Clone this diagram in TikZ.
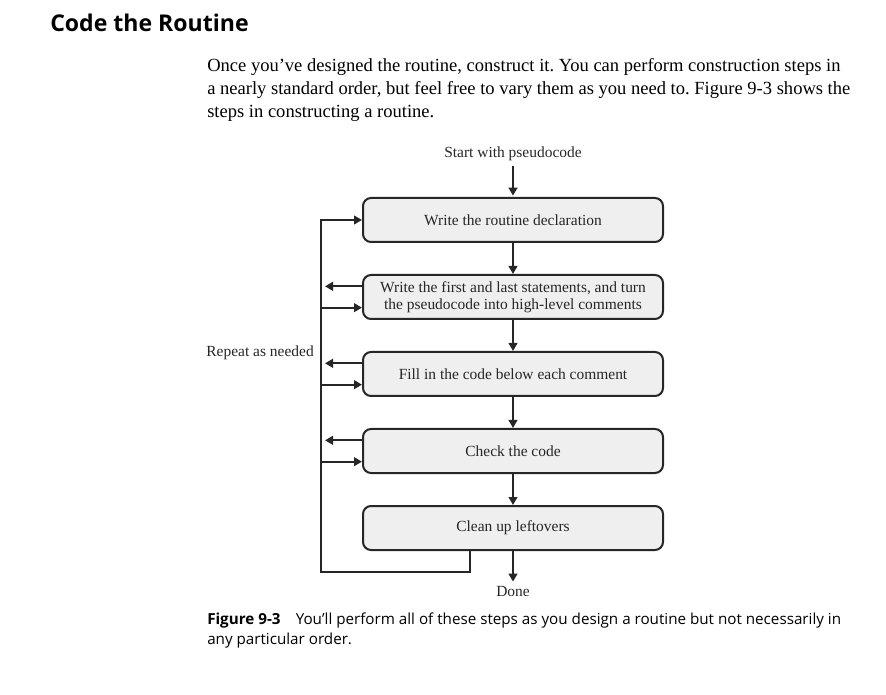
\documentclass[tikz,border=0pt]{standalone}
\usepackage{fontspec}
\setmainfont{Liberation Serif}
\newfontfamily\capfont{Open Sans}
\usetikzlibrary{arrows.meta,positioning}
\frenchspacing

\definecolor{boxfill}{HTML}{EFEFEF}
\definecolor{ink}{HTML}{262626}

\tikzset{
  stepbox/.style={shape=rectangle,draw=ink,fill=boxfill,line width=1.5pt,
    rounded corners=6pt,minimum width=225pt,minimum height=33pt,
    align=center,text=ink,font=\fontsize{11.6}{12.8}\selectfont},
  lbl/.style={inner sep=0pt,text=ink,font=\fontsize{11.6}{12.8}\selectfont},
  bodytext/.style={anchor=base west,inner sep=0pt,text=black,
    font=\fontsize{13.9}{16}\selectfont},
  captext/.style={anchor=base west,inner sep=0pt,text=black,
    font=\capfont\fontsize{11.4}{13}\selectfont},
  wire/.style={line width=1.5pt,draw=ink},
  arr/.style={wire,-{Triangle[length=6pt,width=6.5pt]}},
}

\begin{document}
\begin{tikzpicture}[x=0.75pt,y=-0.75pt]
\useasboundingbox (0,0) rectangle (886,695);
\node[anchor=base west,inner sep=0pt,font=\capfont\bfseries\fontsize{17.3}{20}\selectfont] (title) at (50,32) {Code the Routine};
\node[bodytext] (par1) at (207,72) {Once you’ve designed the routine, construct it. You can perform construction steps in};
\node[bodytext] (par2) at (207,95) {a nearly standard order, but feel free to vary them as you need to. Figure 9-3 shows the};
\node[bodytext] (par3) at (207,118) {steps in constructing a routine.};

\node[lbl,anchor=base] (start) at (513,158) {Start with pseudocode};
\node[stepbox] (b1) at (513,220) {Write the routine declaration};
\node[stepbox] (b2) at (513,297) {Write the first and last statements, and turn\\the pseudocode into high-level comments};
\node[stepbox] (b3) at (513,374) {Fill in the code below each comment};
\node[stepbox] (b4) at (513,451) {Check the code};
\node[stepbox] (b5) at (513,528) {Clean up leftovers};
\node[lbl,anchor=base] (done) at (513,596) {Done};
\node[lbl,anchor=base east] (repeat) at (314,357) {Repeat as needed};

\coordinate (loopbot) at (321,572);
\coordinate (loopend) at (470,572);

\draw[arr,shorten <=3pt,shorten >=1pt] (start) -- (b1);
\draw[arr] (b1) -- (b2);
\draw[arr] (b2) -- (b3);
\draw[arr] (b3) -- (b4);
\draw[arr] (b4) -- (b5);
\draw[arr,shorten >=3pt] (b5) -- (done);

\draw[arr] (b5.south -| loopend) -- (loopend) -- (loopbot) |- (b1.west);
\foreach \b in {b2,b3,b4} {
  \draw[arr,shorten >=3pt] ([yshift=8pt]\b.west) -- ([yshift=8pt]\b.west -| loopbot);
  \draw[arr] ([yshift=-8pt]\b.west -| loopbot) -- ([yshift=-8pt]\b.west);
}

\node[captext] (cap1) at (207,624) {\textbf{Figure 9-3}\hspace{1em}You’ll perform all of these steps as you design a routine but not necessarily in};
\node[captext] (cap2) at (207,644) {any particular order.};
\end{tikzpicture}
\end{document}
